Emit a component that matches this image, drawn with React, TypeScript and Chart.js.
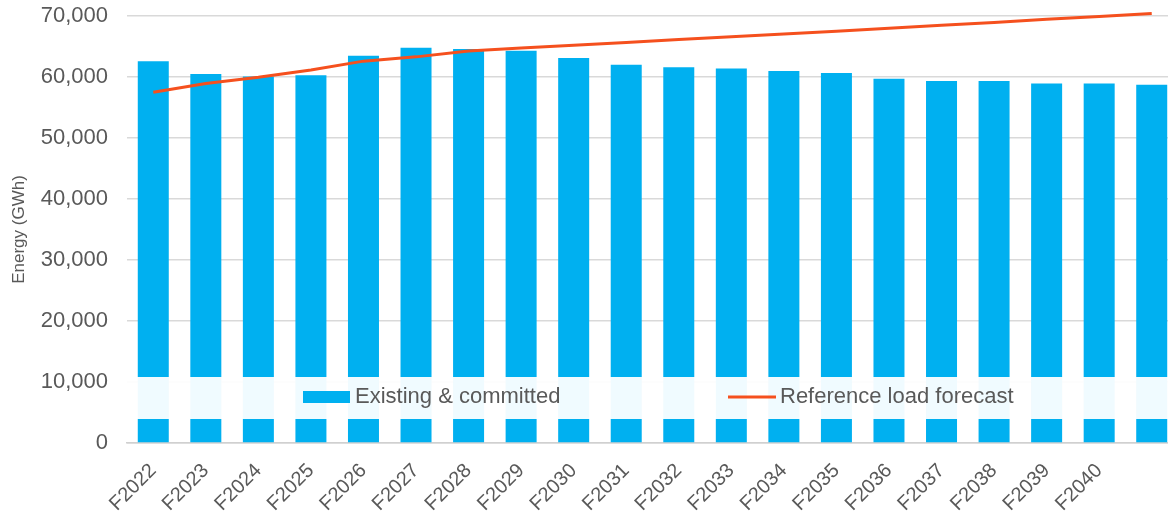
import React, { useEffect, useRef } from 'react';
import { Chart, registerables } from 'chart.js';

Chart.register(...registerables);

const categories = [
  'F2022', 'F2023', 'F2024', 'F2025', 'F2026', 'F2027', 'F2028', 'F2029', 'F2030', 'F2031',
  'F2032', 'F2033', 'F2034', 'F2035', 'F2036', 'F2037', 'F2038', 'F2039', 'F2040', '',
];

const existingCommitted = [
  62600, 60500, 60100, 60300, 63500, 64800, 64600, 64300, 63100, 62000,
  61600, 61400, 61000, 60650, 59700, 59350, 59350, 58950, 58950, 58750,
];

const referenceLoadForecast = [
  57500, 58950, 59950, 61150, 62600, 63300, 64250, 64750, 65200, 65650,
  66150, 66600, 67050, 67500, 68000, 68500, 68950, 69450, 69900, 70400,
];

const yTickValues = [0, 10000, 20000, 30000, 40000, 50000, 60000, 70000];

const BAR_COLOR = '#00B0F0';
const LINE_COLOR = '#F5501E';
const TEXT_COLOR = '#595959';
const FONT_FAMILY = '"Liberation Sans", Arial, sans-serif';

const bandLegend = {
  id: 'bandLegend',
  afterDatasetsDraw(chart: any) {
    const { ctx, chartArea } = chart;
    const top = chartArea.bottom - 66;
    const h = 42;
    const left = chartArea.left;
    ctx.save();
    ctx.fillStyle = 'rgba(255,255,255,0.94)';
    ctx.fillRect(left, top, chartArea.right - left, h);
    const cy = top + 20;
    const ds = chart.data.datasets;
    ctx.font = `22px ${FONT_FAMILY}`;
    ctx.textBaseline = 'middle';
    ctx.textAlign = 'left';
    ctx.fillStyle = BAR_COLOR;
    ctx.fillRect(left + 176, cy - 6, 47, 12);
    ctx.fillStyle = TEXT_COLOR;
    ctx.fillText(ds[0].label, left + 228, cy);
    ctx.strokeStyle = LINE_COLOR;
    ctx.lineWidth = 3;
    ctx.beginPath();
    ctx.moveTo(left + 601, cy);
    ctx.lineTo(left + 649, cy);
    ctx.stroke();
    ctx.fillStyle = TEXT_COLOR;
    ctx.fillText(ds[1].label, left + 653, cy);
    ctx.restore();
  },
};

export default function App() {
  const canvasRef = useRef<HTMLCanvasElement | null>(null);

  useEffect(() => {
    const canvas = canvasRef.current;
    if (!canvas) return;
    const chart = new Chart(canvas, {
      type: 'bar',
      data: {
        labels: categories,
        datasets: [
          {
            type: 'bar',
            label: 'Existing & committed',
            data: existingCommitted,
            backgroundColor: BAR_COLOR,
            borderWidth: 0,
            categoryPercentage: 1,
            barPercentage: 0.59,
            order: 1,
          },
          {
            type: 'line',
            label: 'Reference load forecast',
            data: referenceLoadForecast,
            borderColor: LINE_COLOR,
            backgroundColor: LINE_COLOR,
            borderWidth: 3,
            pointRadius: 0,
            tension: 0,
            clip: false,
            order: 0,
          } as any,
        ],
      },
      options: {
        responsive: false,
        animation: false,
        devicePixelRatio: 1,
        layout: { padding: { left: 0, right: 12, top: 16, bottom: 0 } },
        plugins: {
          legend: { display: false },
          tooltip: { enabled: false },
        },
        scales: {
          x: {
            grid: { display: false, drawTicks: false },
            border: { display: true, color: '#D0D0D0', width: 1.5 },
            ticks: {
              autoSkip: false,
              minRotation: 45,
              maxRotation: 45,
              padding: 16,
              color: TEXT_COLOR,
              font: { family: FONT_FAMILY, size: 20 },
            },
            afterFit(scale: any) {
              scale.height = 72;
              scale.paddingLeft = 0;
              scale.paddingRight = 0;
            },
          },
          y: {
            min: 0,
            max: 70000,
            afterBuildTicks(scale: any) {
              scale.ticks = yTickValues.map((v) => ({ value: v }));
            },
            grid: { color: '#D9D9D9', lineWidth: 1.5, drawTicks: false },
            border: { display: false },
            ticks: {
              padding: 19,
              color: TEXT_COLOR,
              font: { family: FONT_FAMILY, size: 22 },
              callback: (v: any) => Number(v).toLocaleString('en-US'),
            },
            title: {
              display: true,
              text: 'Energy (GWh)',
              color: TEXT_COLOR,
              font: { family: FONT_FAMILY, size: 17 },
              padding: { top: 9, bottom: 0 },
            },
            afterFit(scale: any) {
              scale.width = 127;
              scale.paddingTop = 0;
              scale.paddingBottom = 0;
            },
          },
        },
      },
      plugins: [bandLegend],
    });
    return () => chart.destroy();
  }, []);

  return (
    <div
      style={{
        position: 'fixed',
        left: 0,
        top: 0,
        width: 1168,
        height: 515,
        overflow: 'hidden',
        background: '#fff',
      }}
    >
      <canvas
        ref={canvasRef}
        width={1190}
        height={515}
        style={{ width: 1190, height: 515, display: 'block' }}
      />
    </div>
  );
}
